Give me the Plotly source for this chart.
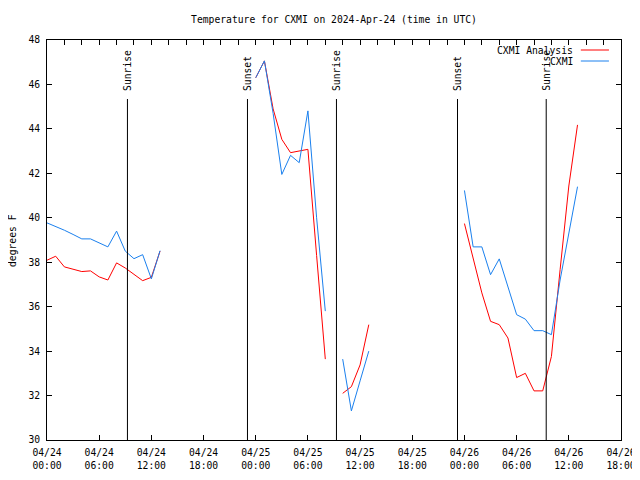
import plotly.graph_objects as go
import pandas as pd

# ---- data (hourly, UTC) ----
start = "2024-04-24 00:00"
hours = list(range(0, 62))
times = [pd.Timestamp(start) + pd.Timedelta(hours=h) for h in hours]

N = None
cxmi = [39.77, 39.62, 39.44, 39.25, 39.05, 39.05, 38.87, 38.69, 39.40, 38.50,
        38.16, 38.34, 37.25, 38.52, N, N, N, N, N, N,
        N, N, N, N, 46.30, 47.06, 44.70, 41.95, 42.81, 42.48,
        44.81, 40.00, 35.80, N, 33.64, 31.31, 32.66, 34.00, N, N,
        N, N, N, N, N, N, N, N, 41.23, 38.69,
        38.69, 37.44, 38.15, 36.89, 35.64, 35.44, 34.92, 34.92, 34.74, 37.20,
        39.30, 41.40]

analysis = [38.09, 38.27, 37.79, 37.67, 37.58, 37.61, 37.34, 37.20, 37.97, 37.74,
            37.44, 37.17, 37.32, 38.50, N, N, N, N, N, N,
            N, N, N, N, 46.30, 47.06, 44.90, 43.53, 42.93, 43.00,
            43.08, 38.30, 33.64, N, 32.10, 32.40, 33.38, 35.19, N, N,
            N, N, N, N, N, N, N, N, 39.74, 38.12,
            36.62, 35.34, 35.19, 34.59, 32.81, 33.00, 32.21, 32.21, 33.76, 37.67,
            41.43, 44.18]

sun_times = ["2024-04-24 09:15", "2024-04-24 23:03", "2024-04-25 09:17",
             "2024-04-25 23:12", "2024-04-26 09:24"]
sun_labels = ["Sunrise", "Sunset", "Sunrise", "Sunset", "Sunrise"]

series_names = ["CXMI Analysis", "CXMI"]
series_colors = ["#ff0000", "#1a80ee"]

FONT = "DejaVu Sans Mono"
FS = 9.7

# the page body has a default 8px margin; compensate so the plot sits where intended
OFF = 8
W, H = 640 - OFF, 480 - OFF

fig = go.Figure()
fig.add_trace(go.Scatter(x=times, y=analysis, mode="lines", name=series_names[0],
                         line=dict(color=series_colors[0], width=1), connectgaps=False))
fig.add_trace(go.Scatter(x=times, y=cxmi, mode="lines", name=series_names[1],
                         line=dict(color=series_colors[1], width=1), connectgaps=False))
# invisible traces to carry the helper axes
for ax in ("x2", "x3"):
    fig.add_trace(go.Scatter(x=times, y=cxmi, mode="lines", xaxis=ax, showlegend=False,
                             line=dict(width=0), opacity=0, hoverinfo="skip"))

xr = ["2024-04-24 00:00", "2024-04-26 18:00"]

# sunrise / sunset markers
for t, lab in zip(sun_times, sun_labels):
    fig.add_shape(type="line", xref="x", yref="paper", x0=t, x1=t, y0=0, y1=0.8525,
                  line=dict(color="black", width=1))
    fig.add_annotation(x=t, xref="x", y=0.87, yref="paper", text=lab, textangle=-90,
                       showarrow=False, xanchor="center", yanchor="bottom",
                       font=dict(family=FONT, size=FS, color="black"), borderpad=0)

# manual legend (text left of line sample)
legend_y = [0.975, 0.9475]
for name, col, ly in zip(series_names, series_colors, legend_y):
    fig.add_annotation(x=0.918, y=ly, xref="paper", yref="paper", text=name,
                       showarrow=False, xanchor="right", yanchor="middle",
                       font=dict(family=FONT, size=FS, color="black"), borderpad=0)
    fig.add_shape(type="line", xref="paper", yref="paper", x0=0.930, x1=0.979,
                  y0=ly, y1=ly, line=dict(color=col, width=1))

# y-axis title
fig.add_annotation(x=-0.061, y=0.5, xref="paper", yref="paper", text="degrees F",
                   textangle=-90, showarrow=False, xanchor="center", yanchor="middle",
                   font=dict(family=FONT, size=FS, color="black"))

fig.update_layout(
    width=W, height=H,
    margin=dict(l=47 - OFF, r=19, t=40 - OFF, b=40, autoexpand=False),
    paper_bgcolor="white", plot_bgcolor="white",
    showlegend=False,
    font=dict(family=FONT, size=FS, color="black"),
    title=dict(text="Temperature for CXMI on 2024-Apr-24 (time in UTC)",
               x=0.5, xref="paper", xanchor="center",
               y=1 - (20 - OFF) / H, yanchor="middle",
               font=dict(family=FONT, size=FS, color="black")),
    xaxis=dict(type="date", range=xr, dtick=6 * 3600 * 1000, tick0="2024-04-24 00:00",
               tickformat="%m/%d", ticks="inside", ticklen=5, tickcolor="black",
               ticklabelstandoff=3, automargin=False,
               showline=True, linecolor="black", linewidth=1, mirror=True,
               showgrid=False, zeroline=False, tickfont=dict(family=FONT, size=FS)),
    xaxis2=dict(type="date", range=xr, overlaying="x", side="top", dtick=2 * 3600 * 1000,
                tick0="2024-04-24 00:00", ticks="inside", ticklen=5, tickcolor="black",
                showticklabels=False, showgrid=False, zeroline=False, showline=False,
                automargin=False),
    xaxis3=dict(type="date", range=xr, overlaying="x", side="bottom", dtick=6 * 3600 * 1000,
                tick0="2024-04-24 00:00", tickformat="%H:%M", ticks="",
                ticklabelstandoff=18, showgrid=False, zeroline=False, showline=False,
                automargin=False, tickfont=dict(family=FONT, size=FS)),
    yaxis=dict(range=[30, 48], dtick=2, ticks="inside", ticklen=5, tickcolor="black",
               ticklabelstandoff=4, automargin=False,
               showline=True, linecolor="black", linewidth=1, mirror="ticks",
               showgrid=False, zeroline=False, tickfont=dict(family=FONT, size=FS)),
)

fig.write_html("out.html")
